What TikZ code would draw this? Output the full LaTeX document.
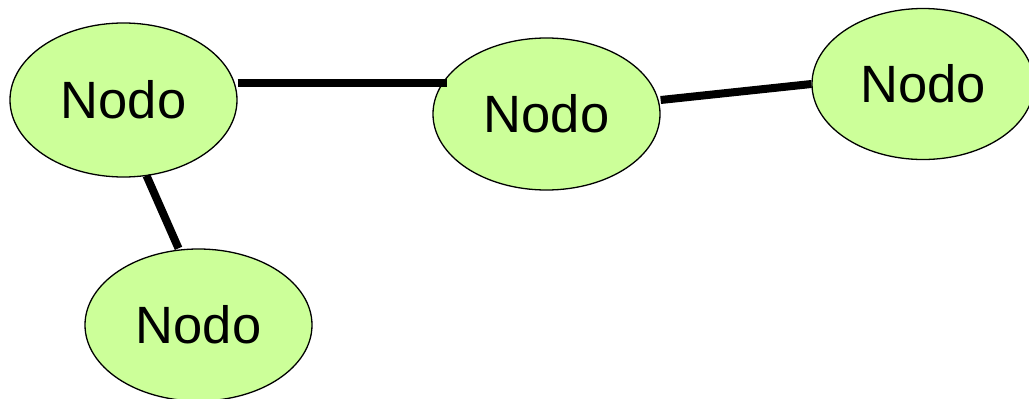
\documentclass[tikz,border=0pt]{standalone}
\usepackage{fontspec}
\setmainfont{Liberation Sans}
\usetikzlibrary{shapes.geometric}
\definecolor{nodefill}{HTML}{CCFF99}
\tikzset{
  nodo/.style={ellipse, draw=black, line width=1.3pt, fill=nodefill, inner sep=0pt,
    minimum width=227pt, minimum height=152pt, font=\fontsize{52.5}{52.5}\selectfont},
  link/.style={line width=8pt, draw=black}
}
\begin{document}
\begin{tikzpicture}[x=1pt,y=-1pt]
\useasboundingbox (0,0) rectangle (1029,399);
\node[nodo, minimum height=154pt] (n1) at (123.5,100) {Nodo};
\node[nodo] (n2) at (546.5,114) {Nodo};
\node[nodo, minimum width=222pt, minimum height=151pt] (n3) at (923,84) {Nodo};
\node[nodo] (n4) at (198.5,325) {Nodo};
\draw[link] ([yshift=17pt]n1.east) -- ([xshift=15pt,yshift=31pt]n2.west);
\draw[link] ([yshift=14pt]n2.east) -- (n3.west);
\draw[link] ([xshift=23pt,yshift=2pt]n1.south) -- ([xshift=-20pt]n4.north);
\end{tikzpicture}
\end{document}
